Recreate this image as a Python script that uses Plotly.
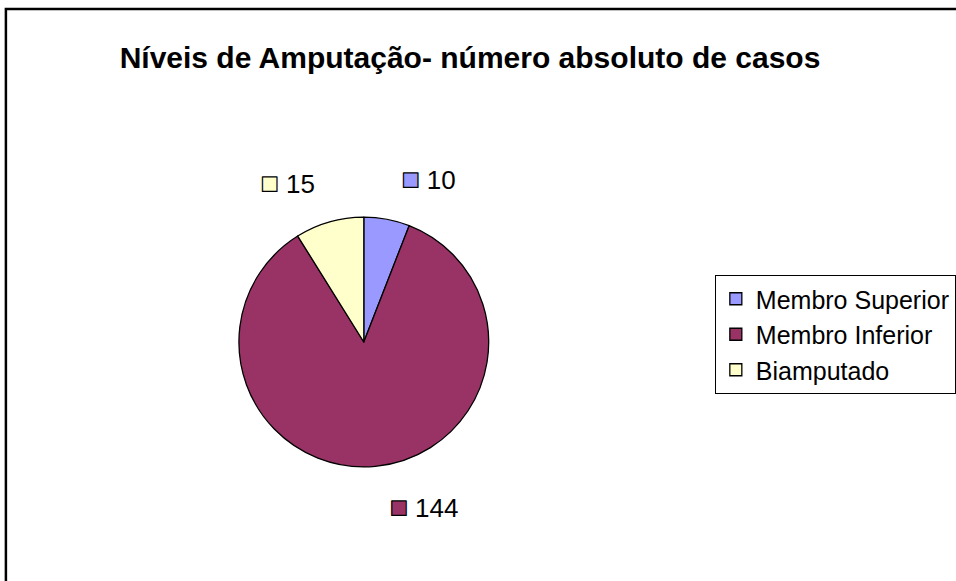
import plotly.graph_objects as go

categories = ["Membro Superior", "Membro Inferior", "Biamputado"]
values = [10, 144, 15]
colors = ["#9999FF", "#993366", "#FFFFCC"]
title_text = "Níveis de Amputação- número absoluto de casos"

W, H = 956, 581

# small colour key in front of each value; a blank spacer line pushes the
# outside labels away from the pie, as in the original
key_style = "font-size:30px;stroke:#000000;stroke-width:1.2px"
label_texts = []
for i, (c, v) in enumerate(zip(colors, values)):
    core = f"<span style='color:{c};{key_style}'>■</span><span style='font-size:26px'> {v}</span>"
    if i == 1:
        label_texts.append(f" <br>{core}")
    else:
        label_texts.append(f"{core}<br> ")
base_sizes = [21, 23, 21]

fig = go.Figure(
    go.Pie(
        labels=categories,
        values=values,
        text=label_texts,
        textinfo="text",
        textposition="outside",
        textfont=dict(family="Liberation Sans, Arial, sans-serif", size=base_sizes, color="black"),
        marker=dict(colors=colors, line=dict(color="black", width=1.3)),
        sort=False,
        direction="clockwise",
        rotation=0,
        hoverinfo="label+value",
        domain=dict(x=[243 / W, 497 / W], y=[1 - 469 / H, 1 - 215 / H]),
    )
)

fig.update_layout(
    width=W,
    height=H,
    margin=dict(l=0, r=0, t=0, b=0),
    paper_bgcolor="white",
    plot_bgcolor="white",
    font=dict(family="Liberation Sans, Arial, sans-serif", color="black"),
    title=dict(
        text=f"<b>{title_text}</b>",
        x=470 / W,
        xanchor="center",
        y=1 - 57 / H,
        yanchor="middle",
        font=dict(size=30, family="Liberation Sans, Arial, sans-serif", color="black"),
    ),
    showlegend=True,
    legend=dict(
        x=727 / W,
        xanchor="left",
        y=1 - 275 / H,
        yanchor="top",
        bgcolor="white",
        bordercolor="black",
        borderwidth=1,
        itemwidth=30,
        font=dict(size=25, family="Liberation Sans, Arial, sans-serif", color="black"),
    ),
    shapes=[
        dict(
            type="rect",
            xref="paper",
            yref="paper",
            x0=6 / W,
            x1=1.2,
            y0=-0.2,
            y1=1 - 9 / H,
            line=dict(color="black", width=2.5),
            fillcolor="rgba(0,0,0,0)",
            layer="below",
        )
    ],
)

fig.write_html(
    "out.html",
    config={"displayModeBar": False},
    post_script="document.body.style.margin='0';document.body.style.overflow='hidden';",
)
